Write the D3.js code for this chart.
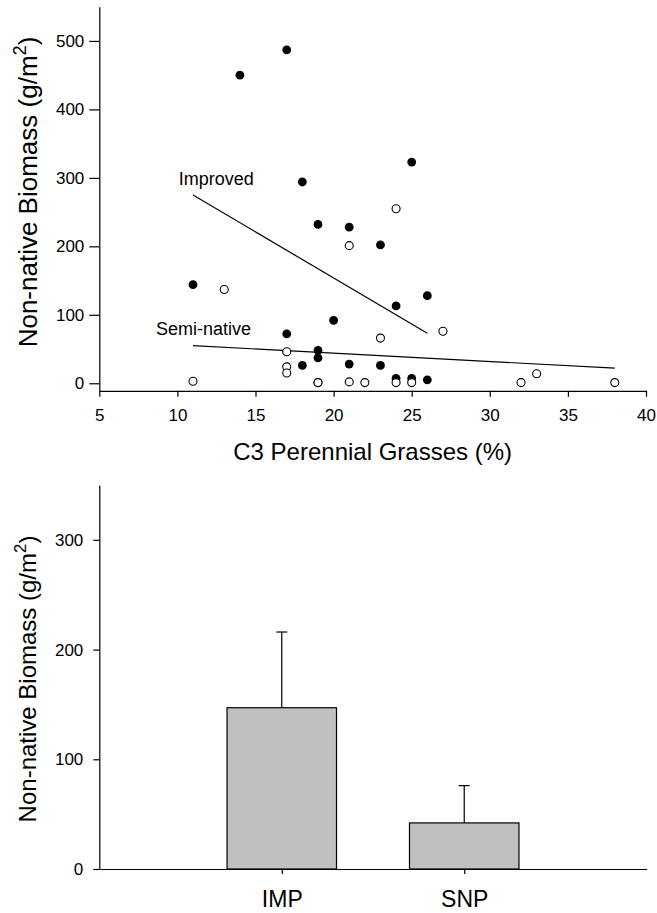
<!DOCTYPE html>
<html>
<head>
<meta charset="utf-8">
<script src="https://cdn.jsdelivr.net/npm/d3@7"></script>
<style>
  body { margin: 0; background: #fff; }
  svg text { font-family: "Liberation Sans", Arial, sans-serif; fill: #000; }
</style>
</head>
<body>
<div id="chart"></div>
<script>
// scatter: improved pastures (filled) and semi-native pastures (open)
const improvedX = [14, 17, 25, 18, 19, 21, 23, 11, 26, 24, 20, 17, 19, 19, 18, 21, 23, 24, 25, 26];
const improvedY = [450, 487, 323, 294, 232, 228, 202, 144, 128, 113, 92, 72, 48, 37, 26, 28, 26, 7, 7, 5];
const semiX = [24, 21, 13, 27, 23, 17, 17, 17, 11, 19, 19, 21, 22, 24, 25, 32, 33, 38];
const semiY = [255, 201, 137, 76, 66, 46, 24, 15, 3, 1, 1, 2, 1, 1, 1, 1, 14, 1];

// regression lines
const improvedFitX = [11, 26];
const improvedFitY = [275, 73];
const semiFitX = [11, 38];
const semiFitY = [55, 22];

const xTicks = [5, 10, 15, 20, 25, 30, 35, 40];
const yTicksTop = [0, 100, 200, 300, 400, 500];

// bar chart
const categories = ["IMP", "SNP"];
const means = [147, 42];
const errs = [69, 34];
const yTicksBottom = [0, 100, 200, 300];

const W = 657, H = 913;
const svg = d3.select("#chart").append("svg")
    .attr("width", W)
    .attr("height", H);

// ---------- top panel ----------
const x = d3.scaleLinear().domain([5, 40]).range([99.3, 646]);
const y = d3.scaleLinear().domain([-11, 550]).range([390.8, 6.7]);

const gTop = svg.append("g");

const xAxis = gTop.append("g")
    .attr("transform", `translate(0,${y(-11)})`)
    .call(d3.axisBottom(x).tickValues(xTicks).tickSize(6).tickPadding(12).tickSizeOuter(0));
const yAxis = gTop.append("g")
    .attr("transform", `translate(${x(5)},0)`)
    .call(d3.axisLeft(y).tickValues(yTicksTop).tickSize(10).tickPadding(5).tickSizeOuter(0));

[xAxis, yAxis].forEach(a => {
    a.select(".domain").attr("stroke", "#000").attr("stroke-width", 1.2);
    a.selectAll(".tick line").attr("stroke", "#000").attr("stroke-width", 1.2);
    a.selectAll(".tick text").style("font-size", "17px").attr("fill", "#000");
});

gTop.append("text")
    .attr("x", (x(5) + x(40)) / 2)
    .attr("y", 460)
    .attr("text-anchor", "middle")
    .style("font-size", "24px")
    .text("C3 Perennial Grasses (%)");

function yTitle(g, cx, cy, size) {
    const t = g.append("text")
        .attr("transform", `translate(${cx},${cy}) rotate(-90)`)
        .attr("text-anchor", "middle")
        .style("font-size", size + "px");
    t.append("tspan").text("Non-native Biomass (g/m");
    t.append("tspan").text("2").style("font-size", (size * 0.7) + "px").attr("dy", -size * 0.4);
    t.append("tspan").text(")").attr("dy", size * 0.4);
}
yTitle(gTop, 36.5, 192, 26);

const line = d3.line().x(d => x(d[0])).y(d => y(d[1]));
gTop.append("path")
    .datum(d3.zip(improvedFitX, improvedFitY))
    .attr("fill", "none").attr("stroke", "#000").attr("stroke-width", 1.2)
    .attr("d", line);
gTop.append("path")
    .datum(d3.zip(semiFitX, semiFitY))
    .attr("fill", "none").attr("stroke", "#000").attr("stroke-width", 1.2)
    .attr("d", line);

gTop.append("text").attr("x", x(10.08)).attr("y", y(289.6))
    .style("font-size", "18px").text("Improved");
gTop.append("text").attr("x", x(8.63)).attr("y", y(70.5))
    .style("font-size", "18px").text("Semi-native");

gTop.selectAll("circle.imp")
    .data(d3.zip(improvedX, improvedY))
    .join("circle")
    .attr("class", "imp")
    .attr("cx", d => x(d[0]))
    .attr("cy", d => y(d[1]))
    .attr("r", 4.4)
    .attr("fill", "#000");

gTop.selectAll("circle.semi")
    .data(d3.zip(semiX, semiY))
    .join("circle")
    .attr("class", "semi")
    .attr("cx", d => x(d[0]))
    .attr("cy", d => y(d[1]))
    .attr("r", 4)
    .attr("fill", "#fff")
    .attr("stroke", "#000")
    .attr("stroke-width", 1.1);

// ---------- bottom panel ----------
const xb = d3.scaleLinear().domain([0, 3]).range([99.3, 646.7]);
const yb = d3.scaleLinear().domain([0, 350]).range([869, 485]);
const bw = 0.6;

const gBot = svg.append("g");

gBot.selectAll("line.err")
    .data(categories)
    .join("line")
    .attr("class", "err")
    .attr("x1", (d, i) => xb(i + 1)).attr("x2", (d, i) => xb(i + 1))
    .attr("y1", (d, i) => yb(means[i])).attr("y2", (d, i) => yb(means[i] + errs[i]))
    .attr("stroke", "#000").attr("stroke-width", 1.2);
gBot.selectAll("line.cap")
    .data(categories)
    .join("line")
    .attr("class", "cap")
    .attr("x1", (d, i) => xb(i + 1) - 5.5).attr("x2", (d, i) => xb(i + 1) + 5.5)
    .attr("y1", (d, i) => yb(means[i] + errs[i])).attr("y2", (d, i) => yb(means[i] + errs[i]))
    .attr("stroke", "#000").attr("stroke-width", 1.2);

gBot.selectAll("rect")
    .data(categories)
    .join("rect")
    .attr("x", (d, i) => xb(i + 1 - bw / 2))
    .attr("width", (d, i) => xb(i + 1 + bw / 2) - xb(i + 1 - bw / 2))
    .attr("y", (d, i) => yb(means[i]))
    .attr("height", (d, i) => yb(0) - yb(means[i]))
    .attr("fill", "#c0c0c0")
    .attr("stroke", "#000")
    .attr("stroke-width", 1.2);

const xbAxis = gBot.append("g")
    .attr("transform", `translate(0,${yb(0)})`)
    .call(d3.axisBottom(xb).tickValues([1, 2]).tickFormat(d => categories[d - 1])
        .tickSize(5).tickPadding(17).tickSizeOuter(0));
const ybAxis = gBot.append("g")
    .attr("transform", `translate(${xb(0)},0)`)
    .call(d3.axisLeft(yb).tickValues(yTicksBottom).tickSize(6).tickPadding(10).tickSizeOuter(0));

[xbAxis, ybAxis].forEach(a => {
    a.select(".domain").attr("stroke", "#000").attr("stroke-width", 1.2);
    a.selectAll(".tick line").attr("stroke", "#000").attr("stroke-width", 1.2);
    a.selectAll(".tick text").style("font-size", "17px").attr("fill", "#000");
});
xbAxis.selectAll(".tick text").style("font-size", "23px");

yTitle(gBot, 36, 679, 24);
</script>
</body>
</html>
